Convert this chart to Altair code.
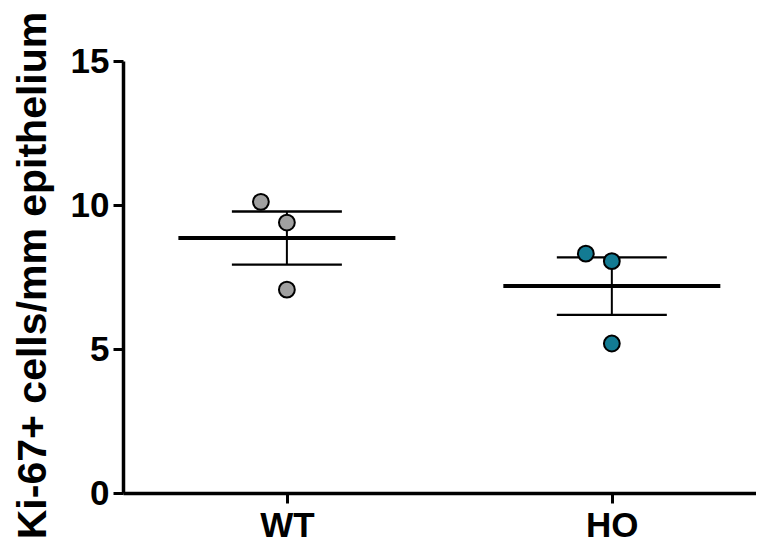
import altair as alt
import pandas as pd
import numpy as np

# ---- data ----
groups = ["WT", "HO"]
wt_values = [10.11, 9.39, 7.06]
ho_values = [8.31, 8.05, 5.19]
y_ticks = [0, 5, 10, 15]
point_colors = ["#a0a0a0", "#137b93"]
y_title = "Ki-67+ cells/mm epithelium"

# ---- tables built from the arrays ----
rows = []
summ = []
for g, vals in zip(groups, [wt_values, ho_values]):
    v = np.array(vals, dtype=float)
    order = np.argsort(-v)
    dodge = np.zeros(len(v))
    for a, b in zip(order[:-1], order[1:]):
        if v[a] - v[b] < 1.0:  # overlapping points are spread sideways
            dodge[a] = -1
    for val, d in zip(v, dodge):
        rows.append({"group": g, "value": val, "dx": d})
    m = v.mean()
    sem = v.std(ddof=1) / np.sqrt(len(v))
    summ.append({"group": g, "mean": m, "lo": m - sem, "hi": m + sem})

pts = pd.DataFrame(rows)
sm = pd.DataFrame(summ)

FONT = "Liberation Sans"

xscale = alt.Scale(type="point", domain=groups, padding=0.474, align=0.532)
yscale = alt.Scale(domain=[0, 15], nice=False, zero=True)

x_axis = alt.Axis(
    title=None, labelAngle=0, labelFont=FONT, labelFontSize=35, labelFontWeight="bold",
    labelColor="black", labelPadding=5, tickSize=10, tickWidth=3, tickColor="black",
    domainColor="black", domainWidth=3.5, grid=False,
)
y_axis = alt.Axis(
    title=y_title, values=y_ticks, labelFont=FONT, labelFontSize=35, labelFontWeight="bold",
    labelColor="black", labelPadding=4, tickSize=10, tickWidth=3, tickColor="black",
    domainColor="black", domainWidth=3.5, grid=False,
    titleFont=FONT, titleFontSize=41, titleFontWeight="bold", titleColor="black",
    titleAngle=270, titleBaseline="alphabetic", titleAlign="center", titleX=-78, titleY=214,
)


def X():
    return alt.X("group:N", scale=xscale, axis=x_axis, title=None)


def Y(field):
    return alt.Y(field, scale=yscale, axis=y_axis, title=y_title)


base_s = alt.Chart(sm)

err = base_s.mark_rule(color="black", strokeWidth=2, opacity=1).encode(
    x=X(), y=Y("lo:Q"), y2="hi:Q",
)
cap_hi = base_s.mark_tick(color="black", orient="horizontal", size=110, thickness=2.3, opacity=1).encode(
    x=X(), y=Y("hi:Q"),
)
cap_lo = base_s.mark_tick(color="black", orient="horizontal", size=110, thickness=2.3, opacity=1).encode(
    x=X(), y=Y("lo:Q"),
)
mean_line = base_s.mark_tick(color="black", orient="horizontal", size=217, thickness=4, opacity=1).encode(
    x=X(), y=Y("mean:Q"),
)
points = alt.Chart(pts).mark_point(
    shape="circle", filled=True, size=250, stroke="black", strokeWidth=2, opacity=1
).encode(
    x=X(),
    xOffset=alt.XOffset("dx:Q", scale=alt.Scale(domain=[-1, 1], range=[-26, 26])),
    y=Y("value:Q"),
    fill=alt.Fill("group:N", scale=alt.Scale(domain=groups, range=point_colors), legend=None),
)

chart = alt.layer(err, cap_hi, cap_lo, mean_line, points).properties(
    width=633, height=432,
    autosize=alt.AutoSizeParams(type="none"),
    padding={"left": 115, "top": 53, "right": 0, "bottom": 50},
    background="white",
).configure_view(stroke=None)

chart.save("out.html", embed_options={"renderer": "svg", "actions": False})
